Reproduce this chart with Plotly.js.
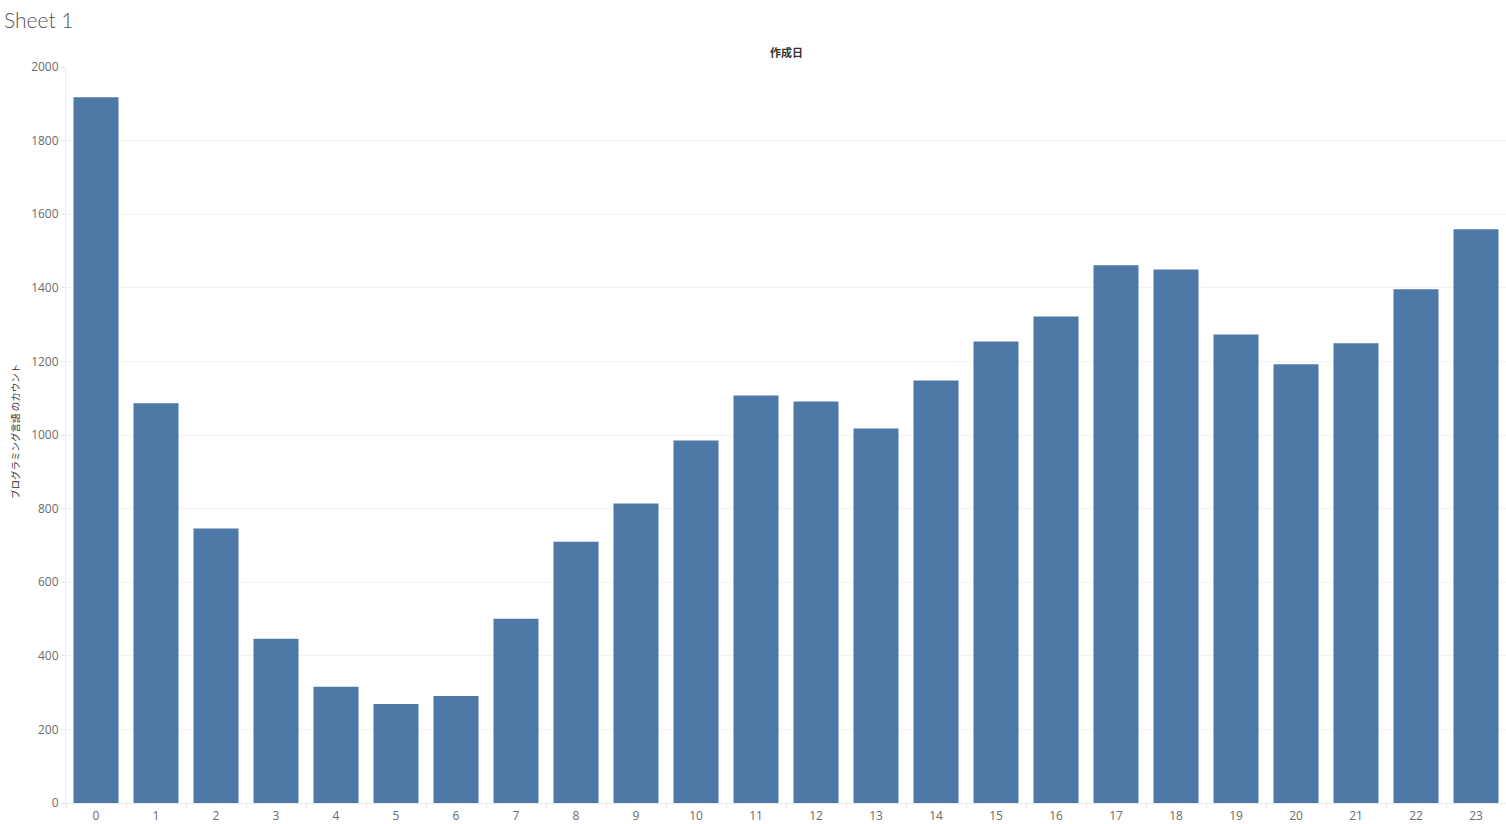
<!DOCTYPE html>
<html>
<head>
<meta charset="utf-8">
<script src="https://cdn.plot.ly/plotly-3.0.1.min.js"></script>
<style>html,body{margin:0;padding:0;background:#fff;}#chart{width:1506px;height:824px;}</style>
</head>
<body>
<div id="chart"></div>
<script>
const hours = ["0","1","2","3","4","5","6","7","8","9","10","11","12","13","14","15","16","17","18","19","20","21","22","23"];
const counts = [1918,1086,746,446,316,269,291,501,710,814,985,1107,1091,1018,1148,1254,1322,1461,1450,1273,1192,1249,1396,1559];
const yTicks = [0,200,400,600,800,1000,1200,1400,1600,1800,2000];
const chartTitle = "Sheet 1";
const xTitle = "作成日";
const yTitle = "プログラミング言語 のカウント";

const trace = {
  type: "bar",
  x: hours,
  y: counts,
  marker: {color: "#4e79a7", line: {width: 0}},
  width: 0.75,
  hoverinfo: "x+y"
};

const tickFont = {family: "Open Sans, Arial, sans-serif", size: 12, color: "#6b6b6b"};

const layout = {
  width: 1506,
  height: 824,
  margin: {l: 66, r: 0, t: 67, b: 21, pad: 0},
  paper_bgcolor: "#fff",
  plot_bgcolor: "#fff",
  showlegend: false,
  font: {family: "Open Sans, Arial, sans-serif"},
  title: {
    text: chartTitle,
    x: 4/1506, xanchor: "left", xref: "container",
    y: 1 - 21/824, yanchor: "middle", yref: "container",
    font: {family: "Lato, Open Sans, sans-serif", size: 21, color: "#555", weight: 300}
  },
  xaxis: {
    type: "category",
    range: [-0.5, 23.5],
    tickfont: tickFont,
    ticks: "outside",
    tickson: "boundaries",
    ticklen: 4,
    tickcolor: "#e6e6e6",
    ticklabelstandoff: 2,
    showline: true,
    linecolor: "#ececec",
    linewidth: 1,
    showgrid: false,
    fixedrange: true
  },
  yaxis: {
    range: [0, 2000],
    tickvals: yTicks,
    ticktext: yTicks.map(String),
    tickfont: tickFont,
    ticks: "outside",
    ticklen: 4,
    tickcolor: "#e6e6e6",
    showline: true,
    linecolor: "#ececec",
    showgrid: true,
    gridcolor: "#f2f2f2",
    zeroline: false,
    fixedrange: true
  },
  annotations: [
    {
      text: "<b>" + xTitle + "</b>",
      xref: "paper", yref: "paper",
      x: 0.5, y: 1, xanchor: "center", yanchor: "bottom", yshift: 5,
      showarrow: false,
      font: {family: "Noto Sans CJK JP, sans-serif", size: 11, color: "#333"}
    },
    {
      text: yTitle,
      xref: "paper", yref: "paper",
      x: 0, y: 0.5, xanchor: "center", yanchor: "middle", xshift: -51, yshift: 3,
      textangle: -90,
      showarrow: false,
      font: {family: "Noto Sans CJK JP, sans-serif", size: 9.5, color: "#333"}
    }
  ]
};

Plotly.newPlot("chart", [trace], layout, {displayModeBar: false});
</script>
</body>
</html>
